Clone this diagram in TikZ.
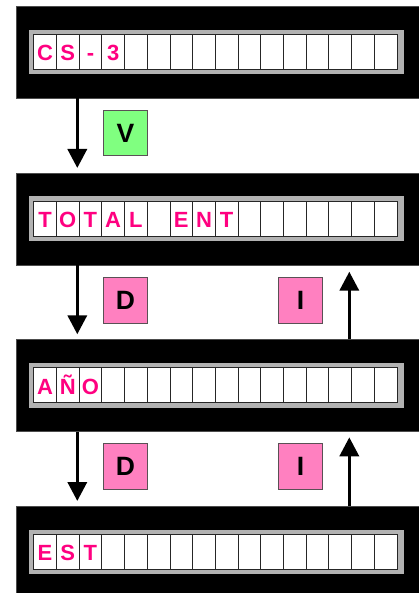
\documentclass[tikz,border=0pt]{standalone}
\usepackage{fontspec}
\setmainfont{Liberation Sans}
\usetikzlibrary{arrows.meta}
\definecolor{txtpink}{RGB}{255,0,128}
\definecolor{boxpink}{RGB}{255,128,192}
\definecolor{boxgreen}{RGB}{128,255,128}
\definecolor{stripgray}{RGB}{178,178,178}
\definecolor{boxedge}{RGB}{90,80,85}
\begin{document}
\begin{tikzpicture}[x=1pt,y=-1pt,
  panel/.style={fill=black, draw=black!70, line width=0.5pt, minimum width=414pt, minimum height=92pt, inner sep=0pt, anchor=north west},
  strip/.style={fill=stripgray, draw=none, minimum width=375.7pt, minimum height=44.5pt, inner sep=0pt, anchor=north west},
  cell/.style={fill=white, draw=black!85, line width=0.8pt, minimum width=22.7pt, minimum height=35pt, inner sep=0pt, anchor=north west, text=txtpink, text height=17.8pt, text depth=0pt, font=\fontsize{22}{22}\selectfont\bfseries},
  key/.style={draw=boxedge, line width=1pt, minimum width=44.6pt, minimum height=45.5pt, inner sep=0pt, anchor=north west, text height=17.7pt, text depth=0pt, font=\fontsize{26.5}{26.5}\selectfont\bfseries},
  flow/.style={line width=3.5pt, -{Triangle[width=19pt,length=19pt]}}
]
\useasboundingbox (0,0) rectangle (419,593);
\clip (0,0) rectangle (419,593);
% panels
\foreach \n/\t/\letters in {1/6/{C,S,-,3,{},{},{},{},{},{},{},{},{},{},{},{}},
                           2/172.7/{T,O,T,A,L,{},E,N,T,{},{},{},{},{},{},{}},
                           3/339.3/{A,Ñ,O,{},{},{},{},{},{},{},{},{},{},{},{},{}},
                           4/506/{E,S,T,{},{},{},{},{},{},{},{},{},{},{},{},{}}}{
  \node[panel] (p\n) at (16,\t) {};
  \node[strip] (s\n) at (28.3,\t+23.5) {};
  \foreach \l [count=\i from 0] in \letters {
    \node[cell] (c\n-\i) at (33.3+22.7*\i,\t+28) {\l};
  }
}
% key boxes
\node[key, fill=boxgreen] (kv) at (102.7,110) {V};
\node[key, fill=boxpink] (kd1) at (102.7,277.3) {D};
\node[key, fill=boxpink] (ki1) at (277.7,277.3) {I};
\node[key, fill=boxpink] (kd2) at (102.7,443.3) {D};
\node[key, fill=boxpink] (ki2) at (277.7,443.3) {I};
% arrow tips
\coordinate (a1) at (77.3,168);
\coordinate (a2) at (77.3,334.3);
\coordinate (a3) at (77.3,501);
\coordinate (u1) at (349.3,271.7);
\coordinate (u2) at (349.3,437.3);
\draw[flow] (a1 |- p1.south) -- (a1);
\draw[flow] (a2 |- p2.south) -- (a2);
\draw[flow] (a3 |- p3.south) -- (a3);
\draw[flow] (u1 |- p3.north) -- (u1);
\draw[flow] (u2 |- p4.north) -- (u2);
\end{tikzpicture}
\end{document}
